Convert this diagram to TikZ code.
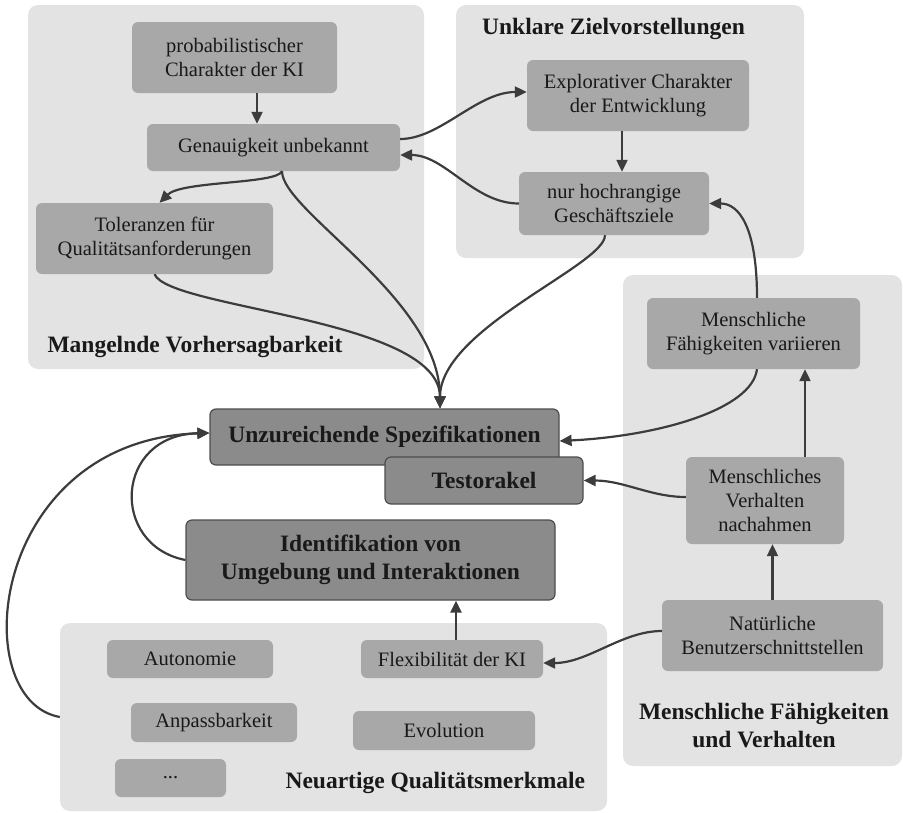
\documentclass[tikz,border=0pt]{standalone}
\usepackage{fontspec}
\setmainfont{Liberation Serif}
\usetikzlibrary{arrows.meta}
\definecolor{grpbg}{RGB}{227,227,227}
\definecolor{boxbg}{RGB}{168,168,168}
\definecolor{keybg}{RGB}{139,139,139}
\definecolor{keyline}{RGB}{77,77,77}
\definecolor{linkc}{RGB}{60,60,60}

\begin{document}
\begin{tikzpicture}[x=1pt,y=1pt,>={Triangle[length=12pt,width=11pt]},
  every node/.style={font=\fontsize{20.5}{24}\selectfont,text=black!90},
  grp/.style={fill=grpbg,rounded corners=10pt,inner sep=0pt},
  box/.style={fill=boxbg,rounded corners=6pt,align=center,inner sep=0pt},
  keybox/.style={fill=keybg,draw=keyline,line width=1.2pt,rounded corners=6pt,align=center,inner sep=0pt,font=\fontsize{23.5}{28}\selectfont\bfseries},
  grplbl/.style={font=\fontsize{23.5}{28}\selectfont\bfseries,align=center},
  link/.style={->,draw=linkc,line width=2.2pt}]
\useasboundingbox (0,0) rectangle (903,-812);
% groups
\node[grp,minimum width=396pt,minimum height=364pt] (g1) at (226,-187) {};
\node[grp,minimum width=348pt,minimum height=253pt] (g2) at (630,-131.5) {};
\node[grp,minimum width=279pt,minimum height=491pt] (g3) at (762.5,-520.5) {};
\node[grp,minimum width=547pt,minimum height=188pt] (g4) at (333.5,-717) {};
\node[grplbl,anchor=west] at (44,-347) {Mangelnde Vorhersagbarkeit};
\node[grplbl] at (613.5,-29) {Unklare Zielvorstellungen};
\node[grplbl] at (764,-726) {Menschliche Fähigkeiten\\und Verhalten};
\node[grplbl,anchor=west] at (282,-783) {Neuartige Qualitätsmerkmale};
% causes
\node[box,minimum width=205pt,minimum height=71pt] (prob) at (234.5,-57.5) {probabilistischer\\Charakter der KI};
\node[box,minimum width=253pt,minimum height=47pt] (genau) at (273.5,-147.5) {Genauigkeit unbekannt};
\node[box,minimum width=237pt,minimum height=71pt] (tol) at (154.5,-238.5) {Toleranzen für\\Qualitätsanforderungen};
\node[box,minimum width=222pt,minimum height=71pt] (explor) at (638,-95.5) {Explorativer Charakter\\der Entwicklung};
\node[box,minimum width=190pt,minimum height=63pt] (nur) at (614,-203.5) {nur hochrangige\\Geschäftsziele};
\node[box,minimum width=213pt,minimum height=71pt] (menschFV) at (753.5,-333.5) {Menschliche\\Fähigkeiten variieren};
\node[box,minimum width=158pt,minimum height=87pt] (mverh) at (765,-500.5) {Menschliches\\Verhalten\\nachahmen};
\node[box,minimum width=221pt,minimum height=71pt] (natur) at (772.5,-635.5) {Natürliche\\Benutzerschnittstellen};
\node[box,minimum width=166pt,minimum height=38pt] (auton) at (190,-659) {Autonomie};
\node[box,minimum width=166pt,minimum height=39pt] (anpass) at (214,-722.5) {Anpassbarkeit};
\node[box,minimum width=111pt,minimum height=38pt] (dots) at (170.5,-778) {...};
\node[box,minimum width=182pt,minimum height=38pt] (flex) at (452,-659) {Flexibilität der KI};
\node[box,minimum width=182pt,minimum height=39pt] (evol) at (444,-730.5) {Evolution};
% challenges
\node[keybox,minimum width=349pt,minimum height=56pt] (unzu) at (384.5,-437) {Unzureichende Spezifikationen};
\node[keybox,minimum width=198pt,minimum height=47pt] (testo) at (484,-480.5) {Testorakel};
\node[keybox,minimum width=369pt,minimum height=80pt] (ident) at (370.5,-560) {Identifikation von\\Umgebung und Interaktionen};
% connectors
\coordinate (pa) at ([xshift=22.5pt]prob.south);
\coordinate (ea) at ([xshift=-16pt]explor.south);
\coordinate (va) at ([xshift=40pt]mverh.north);
\coordinate (fa) at ([xshift=4pt]flex.north);
\coordinate (gb) at ([xshift=8.5pt]genau.south);
\coordinate (uin) at ([xshift=55.5pt]unzu.north);
\coordinate (uwest) at ([yshift=4pt]unzu.west);
\draw[link] (pa) -- (pa |- genau.north);
\draw[link] (ea) -- (ea |- nur.north);
\draw[link] (va) -- (va |- menschFV.south);
\draw[link] (natur.north) -- (natur.north |- mverh.south);
\draw[link] (fa) -- (fa |- ident.south);
\draw[link] ([yshift=8.5pt]genau.east) .. controls +(40,0) and +(-50,0) .. ([yshift=3.5pt]explor.west);
\draw[link] (nur.west) .. controls +(-45,0) and +(45,0) .. ([yshift=-7.5pt]genau.east);
\draw[link] (gb) .. controls +(-5,-13) and +(22,22) .. ([xshift=5pt]tol.north);
\draw[link] (gb) .. controls +(0,-40) and +(0,110) .. (uin);
\draw[link] (tol.south) .. controls +(15,-35) and +(0,90) .. (uin);
\draw[link] ([xshift=-9pt]nur.south) .. controls +(0,-30) and +(0,80) .. (uin);
\draw[link] ([xshift=3.5pt]menschFV.north) .. controls +(0,70) and +(30,0) .. (nur.east);
\draw[link] ([xshift=3.5pt]menschFV.south) .. controls +(-5,-40) and +(100,5) .. ([yshift=-4pt]unzu.east);
\draw[link] ([yshift=3.5pt]mverh.west) .. controls +(-35,0) and +(40,0) .. (testo.east);
\draw[link] ([yshift=4.5pt]natur.west) .. controls +(-40,0) and +(45,0) .. ([yshift=-4pt]flex.east);
\draw[link] (ident.west) .. controls +(-76,15) and +(-95,-2) .. (uwest);
\draw[link] (g4.west) .. controls +(-95,17) and +(-220,-7) .. (uwest);
\end{tikzpicture}
\end{document}
